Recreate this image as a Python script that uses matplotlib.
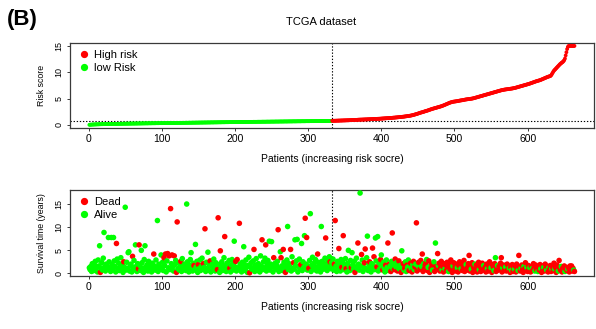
import numpy as np
import matplotlib
matplotlib.use("Agg")
import matplotlib.pyplot as plt
from matplotlib.lines import Line2D


# --- CONFIG ---
RED = "#FF0000"
GREEN = "#00FF00"
BOX = "#3a3a3a"
plt.rcParams['font.family'] = ['Liberation Sans', 'DejaVu Sans']

X_TICKS = [0, 100, 200, 300, 400, 500, 600]
Y_TICKS = [0, 5, 10, 15]
X_LABEL = "Patients (increasing risk socre)"

# risk score of each patient, sorted ascending (low-risk half, then high-risk half)
RISK_LOW = [
    0.02, 0.04, 0.05, 0.06, 0.07, 0.08, 0.08, 0.09, 0.10, 0.10, 0.11, 0.11, 0.12, 0.12, 0.13, 0.13, 0.14, 0.14, 0.14, 0.15,
    0.15, 0.15, 0.16, 0.16, 0.16, 0.17, 0.17, 0.17, 0.18, 0.18, 0.18, 0.19, 0.19, 0.19, 0.20, 0.20, 0.20, 0.20, 0.21, 0.21,
    0.21, 0.21, 0.22, 0.22, 0.22, 0.22, 0.23, 0.23, 0.23, 0.23, 0.24, 0.24, 0.24, 0.24, 0.25, 0.25, 0.25, 0.25, 0.26, 0.26,
    0.26, 0.26, 0.26, 0.27, 0.27, 0.27, 0.27, 0.28, 0.28, 0.28, 0.28, 0.28, 0.29, 0.29, 0.29, 0.29, 0.30, 0.30, 0.30, 0.30,
    0.30, 0.31, 0.31, 0.31, 0.31, 0.31, 0.32, 0.32, 0.32, 0.32, 0.32, 0.33, 0.33, 0.33, 0.33, 0.33, 0.34, 0.34, 0.34, 0.34,
    0.34, 0.35, 0.35, 0.35, 0.35, 0.35, 0.36, 0.36, 0.36, 0.36, 0.36, 0.37, 0.37, 0.37, 0.37, 0.37, 0.38, 0.38, 0.38, 0.38,
    0.38, 0.39, 0.39, 0.39, 0.39, 0.39, 0.40, 0.40, 0.40, 0.40, 0.40, 0.41, 0.41, 0.41, 0.41, 0.41, 0.42, 0.42, 0.42, 0.42,
    0.42, 0.43, 0.43, 0.43, 0.43, 0.43, 0.44, 0.44, 0.44, 0.44, 0.44, 0.45, 0.45, 0.45, 0.45, 0.45, 0.46, 0.46, 0.46, 0.46,
    0.46, 0.47, 0.47, 0.47, 0.47, 0.47, 0.48, 0.48, 0.48, 0.48, 0.48, 0.49, 0.49, 0.49, 0.49, 0.49, 0.50, 0.50, 0.50, 0.50,
    0.50, 0.51, 0.51, 0.51, 0.51, 0.51, 0.52, 0.52, 0.52, 0.52, 0.52, 0.53, 0.53, 0.53, 0.53, 0.53, 0.54, 0.54, 0.54, 0.54,
    0.54, 0.54, 0.55, 0.55, 0.55, 0.55, 0.55, 0.56, 0.56, 0.56, 0.56, 0.56, 0.56, 0.57, 0.57, 0.57, 0.57, 0.57, 0.58, 0.58,
    0.58, 0.58, 0.58, 0.58, 0.59, 0.59, 0.59, 0.59, 0.59, 0.59, 0.60, 0.60, 0.60, 0.60, 0.60, 0.60, 0.61, 0.61, 0.61, 0.61,
    0.61, 0.61, 0.62, 0.62, 0.62, 0.62, 0.62, 0.62, 0.63, 0.63, 0.63, 0.63, 0.63, 0.63, 0.64, 0.64, 0.64, 0.64, 0.64, 0.64,
    0.65, 0.65, 0.65, 0.65, 0.65, 0.65, 0.66, 0.66, 0.66, 0.66, 0.66, 0.66, 0.67, 0.67, 0.67, 0.67, 0.67, 0.67, 0.68, 0.68,
    0.68, 0.68, 0.68, 0.68, 0.69, 0.69, 0.69, 0.69, 0.69, 0.69, 0.70, 0.70, 0.70, 0.70, 0.70, 0.70, 0.71, 0.71, 0.71, 0.71,
    0.71, 0.71, 0.72, 0.72, 0.72, 0.72, 0.72, 0.72, 0.73, 0.73, 0.73, 0.73, 0.73, 0.73, 0.74, 0.74, 0.74, 0.74, 0.74, 0.74,
    0.75, 0.75, 0.75, 0.75, 0.75, 0.76, 0.76, 0.76, 0.76, 0.76, 0.77, 0.77,
]
RISK_HIGH = [
    0.78, 0.78, 0.79, 0.79, 0.80, 0.80, 0.81, 0.81, 0.82, 0.82, 0.83, 0.83, 0.84, 0.84, 0.85, 0.85, 0.86, 0.86, 0.87, 0.87,
    0.88, 0.88, 0.89, 0.89, 0.90, 0.91, 0.91, 0.92, 0.93, 0.93, 0.94, 0.95, 0.96, 0.96, 0.97, 0.98, 0.99, 1.00, 1.00, 1.01,
    1.01, 1.02, 1.02, 1.03, 1.04, 1.04, 1.05, 1.05, 1.06, 1.07, 1.07, 1.08, 1.09, 1.09, 1.10, 1.11, 1.11, 1.12, 1.13, 1.14,
    1.14, 1.15, 1.16, 1.17, 1.17, 1.18, 1.19, 1.20, 1.21, 1.22, 1.23, 1.24, 1.25, 1.26, 1.27, 1.28, 1.29, 1.30, 1.31, 1.32,
    1.33, 1.34, 1.35, 1.37, 1.38, 1.39, 1.40, 1.42, 1.43, 1.44, 1.46, 1.47, 1.49, 1.50, 1.52, 1.53, 1.55, 1.56, 1.58, 1.60,
    1.62, 1.64, 1.66, 1.68, 1.70, 1.72, 1.74, 1.77, 1.80, 1.83, 1.86, 1.90, 1.94, 1.98, 2.02, 2.06, 2.10, 2.15, 2.20, 2.25,
    2.30, 2.34, 2.38, 2.42, 2.46, 2.50, 2.55, 2.60, 2.64, 2.68, 2.72, 2.77, 2.82, 2.87, 2.92, 2.97, 3.02, 3.06, 3.10, 3.14,
    3.18, 3.22, 3.26, 3.30, 3.34, 3.38, 3.42, 3.46, 3.50, 3.55, 3.60, 3.65, 3.70, 3.76, 3.82, 3.88, 3.94, 4.00, 4.06, 4.12,
    4.18, 4.24, 4.28, 4.32, 4.36, 4.40, 4.42, 4.44, 4.46, 4.48, 4.50, 4.52, 4.55, 4.58, 4.61, 4.64, 4.66, 4.68, 4.70, 4.73,
    4.76, 4.79, 4.82, 4.84, 4.86, 4.88, 4.90, 4.92, 4.94, 4.96, 4.98, 5.00, 5.03, 5.06, 5.10, 5.14, 5.18, 5.22, 5.26, 5.30,
    5.34, 5.38, 5.42, 5.46, 5.50, 5.54, 5.58, 5.62, 5.66, 5.70, 5.74, 5.78, 5.82, 5.86, 5.90, 5.94, 5.98, 6.02, 6.06, 6.10,
    6.14, 6.18, 6.22, 6.26, 6.30, 6.34, 6.38, 6.42, 6.46, 6.50, 6.54, 6.58, 6.61, 6.64, 6.67, 6.70, 6.72, 6.74, 6.76, 6.78,
    6.80, 6.82, 6.84, 6.86, 6.88, 6.90, 6.92, 6.95, 6.98, 7.01, 7.04, 7.08, 7.12, 7.16, 7.20, 7.24, 7.28, 7.32, 7.36, 7.40,
    7.44, 7.48, 7.52, 7.56, 7.60, 7.64, 7.68, 7.72, 7.76, 7.80, 7.85, 7.90, 7.95, 8.00, 8.05, 8.10, 8.15, 8.20, 8.25, 8.30,
    8.34, 8.38, 8.42, 8.46, 8.50, 8.56, 8.62, 8.68, 8.74, 8.80, 8.86, 8.92, 8.98, 9.04, 9.10, 9.15, 9.20, 9.24, 9.28, 9.40,
    9.60, 9.85, 10.10, 10.30, 10.45, 10.60, 10.75, 10.90, 11.05, 11.20, 11.35, 11.50, 11.62, 11.75, 11.85, 11.95, 12.10, 12.30, 12.60, 13.20,
    13.80, 14.40, 14.80, 15.00, 15.00, 15.00, 15.00, 15.00, 15.00, 15.00, 15.00, 15.00,
]

# survival time (years) in the same patient order
SURV_YEARS = [
    1.2, 0.8, 1.5, 0.4, 2.1, 1.0, 0.6, 1.8, 2.6, 0.9, 1.3, 0.3, 2.9, 1.6, 6.0, 0.2, 1.1, 2.3, 0.7, 3.3,
    8.9, 1.4, 0.5, 2.0, 1.7, 0.9, 7.8, 2.5, 1.2, 0.4, 7.8, 1.9, 0.8, 7.8, 2.7, 1.5, 0.3, 6.5, 3.1, 1.0,
    2.2, 0.6, 1.4, 3.4, 0.9, 1.8, 0.2, 2.5, 1.3, 14.4, 0.7, 2.4, 1.1, 4.5, 4.7, 0.5, 1.6, 2.0, 0.3, 3.7,
    1.2, 2.8, 0.8, 6.2, 1.5, 0.4, 2.1, 1.0, 6.2, 1.7, 0.6, 5.0, 2.3, 1.1, 0.2, 3.0, 6.0, 1.4, 0.9, 1.9,
    0.5, 2.6, 1.3, 0.8, 1.8, 0.3, 2.2, 1.0, 4.2, 1.6, 0.7, 2.9, 1.2, 11.5, 0.4, 2.0, 1.5, 0.9, 4.0, 1.1,
    2.4, 0.6, 3.4, 1.7, 4.2, 0.3, 2.7, 4.3, 1.2, 3.8, 0.8, 14.1, 2.1, 4.0, 1.4, 0.5, 3.8, 1.9, 2.8, 0.2,
    11.2, 1.0, 2.3, 0.7, 1.6, 2.6, 0.4, 3.2, 1.3, 0.9, 2.0, 1.5, 0.6, 15.1, 2.5, 1.1, 0.3, 1.8, 3.0, 4.5,
    1.2, 0.5, 2.2, 1.7, 0.8, 6.3, 1.4, 2.6, 0.2, 1.9, 1.0, 2.9, 0.6, 1.5, 3.3, 0.9, 2.1, 1.3, 9.7, 0.4,
    2.4, 1.1, 4.6, 0.7, 1.8, 2.7, 0.3, 1.6, 2.0, 0.9, 3.1, 1.2, 0.5, 2.3, 1.4, 0.8, 12.1, 1.9, 0.2, 4.9,
    1.0, 2.5, 0.6, 1.7, 3.4, 8.0, 1.3, 0.4, 2.2, 1.5, 0.9, 2.8, 1.1, 0.3, 1.8, 3.0, 0.7, 2.1, 7.0, 1.4,
    2.6, 0.5, 3.0, 1.2, 0.8, 10.9, 2.0, 1.6, 0.3, 2.4, 1.0, 5.8, 1.9, 0.6, 2.9, 1.3, 0.2, 1.7, 3.5, 0.1,
    1.5, 2.3, 0.9, 1.1, 2.7, 5.2, 0.4, 1.8, 3.2, 1.0, 0.6, 2.1, 1.4, 0.3, 3.8, 1.6, 7.3, 0.8, 2.5, 1.2,
    3.3, 6.2, 0.5, 1.9, 2.8, 1.1, 7.0, 0.7, 2.0, 6.9, 1.5, 0.3, 3.4, 1.3, 2.2, 0.9, 1.7, 2.6, 9.5, 0.4,
    1.0, 4.7, 3.4, 1.6, 0.6, 5.2, 2.4, 1.2, 0.2, 1.8, 2.9, 10.2, 0.8, 2.1, 1.4, 5.2, 0.5, 3.6, 1.1, 2.3,
    0.9, 7.3, 1.7, 2.7, 7.4, 0.3, 1.5, 3.1, 1.0, 1.9, 6.5, 0.6, 2.5, 1.3, 8.2, 12.0, 2.0, 7.8, 0.7, 1.6,
    1.1, 2.8, 13.0, 0.4, 1.8, 3.5, 1.2, 2.2, 0.8, 3.0, 1.4, 0.5, 4.2, 2.4, 1.0, 1.9, 0.3, 10.2, 2.6, 1.5,
    0.9, 2.1, 3.3, 7.7, 1.2, 0.6, 2.7, 1.7, 3.6, 2.5, 1.0, 2.3, 1.4, 3.1, 0.7, 2.0, 11.5, 1.6, 0.4, 2.6,
    1.1, 5.4, 1.9, 0.5, 3.0, 1.3, 2.4, 8.2, 0.8, 1.7, 3.2, 1.0, 0.3, 2.2, 5.0, 1.5, 0.6, 2.8, 1.2, 4.5,
    1.8, 0.9, 2.6, 0.2, 1.4, 3.3, 1.1, 6.6, 2.0, 0.7, 17.5, 1.6, 4.1, 2.9, 0.4, 1.3, 2.3, 5.3, 1.0, 3.4,
    8.1, 0.6, 1.9, 2.5, 1.2, 0.3, 2.1, 5.5, 1.7, 3.6, 0.8, 7.7, 2.7, 1.4, 8.0, 0.5, 2.2, 1.0, 3.0, 4.0,
    1.5, 0.7, 2.4, 1.1, 0.3, 1.8, 2.9, 1.3, 6.6, 0.6, 2.0, 1.6, 0.4, 2.6, 8.8, 1.0, 1.9, 0.8, 3.1, 1.4,
    2.3, 0.5, 1.2, 2.7, 0.9, 1.7, 0.2, 4.9, 1.5, 2.1, 0.7, 1.1, 2.5, 0.4, 1.8, 1.3, 2.9, 0.6, 1.6, 2.2,
    1.0, 0.3, 1.9, 2.6, 0.8, 1.4, 2.0, 11.0, 0.5, 1.7, 2.4, 1.2, 0.9, 2.8, 1.5, 4.2, 0.4, 2.1, 1.0, 1.8,
    2.3, 3.0, 0.6, 1.3, 2.7, 0.2, 1.6, 1.1, 2.0, 0.7, 1.9, 2.5, 0.4, 6.6, 1.4, 0.9, 4.3, 1.7, 2.2, 0.5,
    1.2, 2.6, 0.8, 1.5, 0.3, 2.1, 1.0, 1.8, 0.6, 2.4, 1.3, 0.4, 1.9, 0.9, 2.9, 1.1, 0.2, 1.6, 2.3, 0.7,
    1.4, 0.5, 2.0, 1.2, 0.3, 1.7, 2.5, 0.8, 1.0, 2.2, 0.6, 1.5, 2.8, 0.4, 1.1, 1.9, 0.7, 1.3, 2.1, 3.9,
    0.5, 1.6, 0.9, 2.3, 0.2, 1.4, 1.0, 2.0, 0.6, 1.8, 0.3, 1.2, 2.4, 0.8, 1.5, 0.4, 1.1, 2.2, 0.7, 1.7,
    0.9, 1.3, 0.3, 2.0, 1.0, 0.5, 1.6, 2.5, 0.8, 1.2, 0.2, 1.9, 1.4, 0.6, 2.1, 3.4, 0.4, 1.1, 1.7, 0.7,
    1.5, 0.9, 2.2, 3.4, 0.3, 1.2, 1.8, 0.6, 1.0, 1.4, 0.5, 2.0, 0.8, 1.6, 1.1, 0.2, 1.3, 0.7, 1.9, 0.4,
    1.2, 0.9, 1.6, 0.3, 2.0, 1.0, 0.6, 3.9, 1.4, 0.5, 1.1, 1.8, 0.8, 0.2, 1.5, 1.0, 2.3, 0.7, 1.3, 0.4,
    1.7, 0.9, 1.2, 0.3, 1.5, 1.0, 0.6, 2.1, 1.3, 0.5, 1.8, 0.8, 1.1, 0.4, 1.4, 0.7, 1.9, 1.0, 0.2, 1.6,
    0.9, 1.3, 0.5, 2.0, 1.1, 0.7, 1.5, 0.3, 1.2, 0.8, 1.7, 0.4, 1.0, 1.4, 0.6, 2.2, 0.9, 1.3, 0.2, 1.8,
    1.0, 0.5, 2.8, 1.2, 0.7, 1.5, 0.3, 1.1, 0.8, 1.6, 0.4, 1.0, 1.3, 0.6, 0.9, 1.2, 0.3, 1.6, 0.8, 1.6,
    0.5, 1.1, 0.7, 0.4,
]

# vital status in the same order, 1 = dead, 0 = alive
STATUS_ROWS = [
    "00000000000000010000", "00000000000000000100", "00000001000000000001", "00000001100000000000",
    "00000000100000000000", "00101001010101001001", "10000100000000000000", "00010000010000001010",
    "00000100000000011001", "00000100000010000000", "10100100000000000001", "00000100000000001000",
    "01000000000010000010", "00100100100000010001", "00000000010000010100", "10000000000010000000",
    "00010000010000011000", "01000101000100000010", "00010001000010001100", "00010001010001000010",
    "01000100101010100110", "01010010010100100101", "01010101101011011011", "10101101101010111011",
    "11011101111011111011", "11101111011111101111", "11011110111110111110", "11110111101110101101",
    "11111011101111011011", "10111101110111011101", "11011011101110111011", "10111011011101110111",
    "10111011110111011111", "1101",
]


# --- HELPERS ---
def r_limits(values):
    """axis range padded by 4% on each side"""
    lo, hi = np.min(values), np.max(values)
    pad = (hi - lo) * 0.04
    return lo - pad, hi + pad


def style_axes(ax, ylabel):
    for side in ax.spines.values():
        side.set_color(BOX)
        side.set_linewidth(0.9)
    ax.tick_params(direction='out', length=2.5, width=0.7, color=BOX, pad=2)
    ax.tick_params(axis='x', labelsize=7.5)
    ax.tick_params(axis='y', labelsize=6.5, labelrotation=90)
    for lab in ax.get_yticklabels():
        lab.set_verticalalignment('center')
    ax.set_xticks(X_TICKS)
    ax.set_yticks(Y_TICKS)
    ax.set_xlabel(X_LABEL, fontsize=7.5, labelpad=7)
    ax.set_ylabel(ylabel, fontsize=6.3, labelpad=6)


def legend_handles(labels, colors):
    return [Line2D([], [], marker='o', linestyle='', markersize=4.2,
                   markerfacecolor=c, markeredgecolor=c, label=l)
            for l, c in zip(labels, colors)]


# --- MAIN ---
def main():
    risk = np.array(RISK_LOW + RISK_HIGH)
    surv = np.array(SURV_YEARS)
    dead = np.array([int(ch) for ch in "".join(STATUS_ROWS)]) == 1
    patients = np.arange(1, len(risk) + 1)
    n_low = len(RISK_LOW)
    low = patients <= n_low
    cutoff = np.median(risk)
    split_x = n_low + 0.5

    fig = plt.figure(figsize=(5.96, 3.29), dpi=100)
    ax1 = fig.add_axes([0.1174, 0.611, 0.879, 0.259])
    ax2 = fig.add_axes([0.1174, 0.161, 0.879, 0.262])

    # --- risk score panel ---
    risk_cols = np.where(low, GREEN, RED)
    ax1.scatter(patients, risk, s=7.5, c=risk_cols, linewidths=0, zorder=3)
    ax1.axhline(cutoff, color='black', linestyle=(0, (1.2, 1.6)), linewidth=0.8)
    ax1.axvline(split_x, color='black', linestyle=(0, (1.2, 1.6)), linewidth=0.8)
    ax1.set_xlim(r_limits(patients))
    ax1.set_ylim(r_limits(risk))
    style_axes(ax1, 'Risk score')
    ax1.legend(handles=legend_handles(['High risk', 'low Risk'], [RED, GREEN]),
               loc='upper left', frameon=False, fontsize=8, handletextpad=0.3,
               borderaxespad=0.25, labelspacing=0.25, handlelength=1.2)

    # --- survival panel (points drawn in patient order) ---
    surv_cols = np.where(dead, RED, GREEN)
    ax2.scatter(patients, surv, s=16, c=surv_cols, linewidths=0, zorder=3)
    ax2.axvline(split_x, color='black', linestyle=(0, (1.2, 1.6)), linewidth=0.8)
    ax2.set_xlim(r_limits(patients))
    ax2.set_ylim(r_limits(surv))
    style_axes(ax2, 'Survival time (years)')
    ax2.legend(handles=legend_handles(['Dead', 'Alive'], [RED, GREEN]),
               loc='upper left', frameon=False, fontsize=8, handletextpad=0.3,
               borderaxespad=0.25, labelspacing=0.25, handlelength=1.2)

    fig.text(321 / 596, 1 - 22 / 329, 'TCGA dataset', ha='center', va='center', fontsize=8)
    fig.text(7 / 596, 1 - 20 / 329, '(B)', ha='left', va='center', fontsize=16, fontweight='bold')

    fig.savefig('out.png', dpi=100)
    plt.close(fig)


if __name__ == "__main__":
    main()
